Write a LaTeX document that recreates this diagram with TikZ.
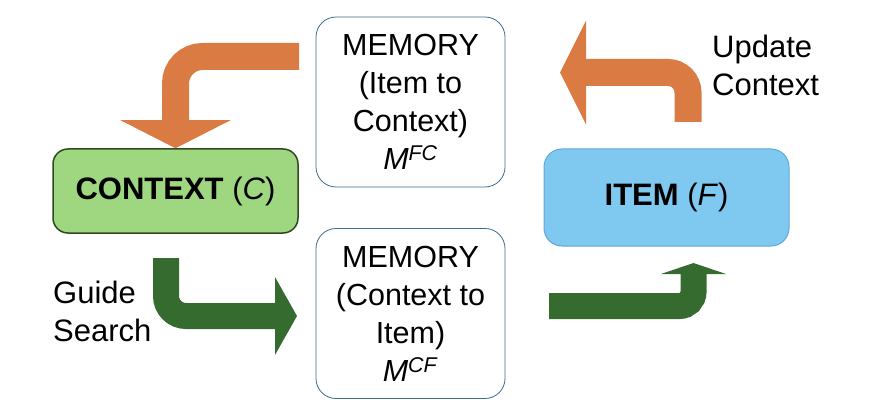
\documentclass[tikz,border=0pt]{standalone}
\usepackage{fontspec}
\setmainfont{Liberation Sans}
\usetikzlibrary{arrows.meta, positioning, calc}
\definecolor{flowOrange}{HTML}{D97B43}
\definecolor{flowGreen}{HTML}{356B2F}
\definecolor{ctxFill}{HTML}{9FD780}
\definecolor{ctxEdge}{HTML}{2E4A1E}
\definecolor{itemFill}{HTML}{7FC8EF}
\definecolor{itemEdge}{HTML}{5DA9DB}
\definecolor{memEdge}{HTML}{3D6E8F}
\newcommand{\assoc}[1]{\textit{M}\textsuperscript{\textit{#1}}}

\begin{document}
\begin{tikzpicture}[
    x=1pt, y=-1pt,
    memory/.style={
        draw=memEdge, line width=0.8pt, rounded corners=20pt, fill=white,
        align=center, minimum width=189pt, minimum height=170pt, inner sep=0pt,
        font=\fontsize{30.5}{38}\selectfont
    },
    state/.style={
        rounded corners=15pt, align=center, inner sep=0pt,
        minimum width=245pt, font=\fontsize{31}{38}\selectfont
    },
    sidetext/.style={align=left, inner sep=0pt, font=\fontsize{31}{38}\selectfont},
    orangeflow/.style={draw=flowOrange, line width=27pt},
    greenflow/.style={draw=flowGreen, line width=26pt}
]

% ---- Page size of the reference (pixel units, y downwards) ----
\useasboundingbox (0,0) rectangle (872,414);

% ---- The two memory stores ----
\node[memory] (memfc) at (410.5,102) {MEMORY\\(Item to\\Context)\\\assoc{FC}};
\node[memory] (memcf) at (410.5,313.5) {MEMORY\\(Context to\\Item)\\\assoc{CF}};

% ---- Context and item states ----
\node[state, draw=ctxEdge, line width=1.5pt, fill=ctxFill, minimum height=84pt]
     (ctx) at (175.5,191) {\textbf{CONTEXT} (\textit{C})};
\node[state, draw=itemEdge, line width=1pt, fill=itemFill, minimum height=97pt,
      rounded corners=18pt]
     (item) at (666.5,197.5) {\textbf{ITEM} (\textit{F})};

% ---- Free ends of the block arrows ----
\coordinate (fcOut)   at (299,56.5);
\coordinate (itemUp)  at (688,122);
\coordinate (fcIn)    at (560,72.5);
\coordinate (ctxDown) at (166,258);
\coordinate (cfIn)    at (297,316);
\coordinate (cfOut)   at (549,306);
\coordinate (itemIn)  at (693.5,263);

% ---- Retrieval loop ----
\draw[orangeflow, rounded corners=27pt, -{Triangle[width=110pt,length=28pt,line width=0pt]}]
     (fcOut) -| (ctx.north);
\draw[orangeflow, rounded corners=20pt, -{Triangle[width=104pt,length=26pt,line width=0pt]}]
     (itemUp) |- (fcIn);
\draw[greenflow, rounded corners=20pt, -{Triangle[width=78pt,length=22pt,line width=0pt]}]
     (ctxDown) |- (cfIn);
\draw[greenflow, rounded corners=14pt, -{Triangle[width=65pt,length=11pt,line width=0pt]}]
     (cfOut) -| (itemIn);

% ---- Loop labels ----
\node[sidetext, anchor=west] (upd) at (712,65) {Update\\Context};
\node[sidetext, anchor=west] (gds) at (53,311) {Guide\\Search};

\end{tikzpicture}
\end{document}
